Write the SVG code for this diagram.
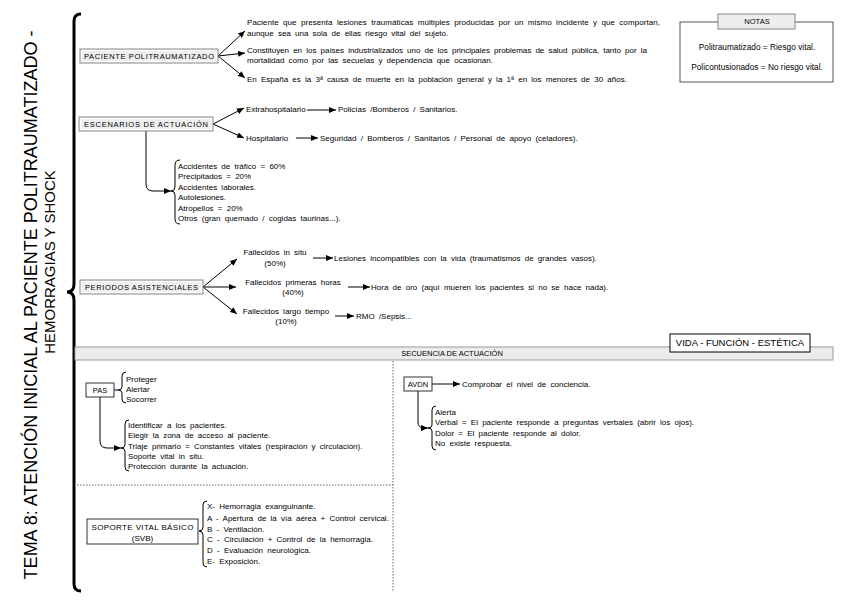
<svg xmlns="http://www.w3.org/2000/svg" width="848" height="600" viewBox="0 0 848 600">
<style>
text{font-family:"Liberation Sans",Arial,sans-serif;fill:#000}
.t{font-size:8px;word-spacing:2px}
.s{font-size:7.5px}
.n{font-size:8.3px}
.c{text-anchor:middle}
.gbox{fill:#efefef;stroke:#8a8a8a;stroke-width:1}
.gin{fill:none;stroke:#fff;stroke-width:1}
.wbox{fill:#fff;stroke:#333;stroke-width:1}
.ln{fill:none;stroke:#000;stroke-width:1}
.ar{fill:none;stroke:#000;stroke-width:1;marker-end:url(#ah)}
.br{fill:none;stroke:#000;stroke-width:1}
.dot{fill:none;stroke:#666;stroke-width:1;stroke-dasharray:1.5 1.5}
</style>
<defs>
<marker id="ah" markerUnits="userSpaceOnUse" markerWidth="7" markerHeight="6" refX="7" refY="3" orient="auto">
<path d="M0,0 L7,3 L0,6 z" fill="#000"/>
</marker>
</defs>
<rect width="848" height="600" fill="#fff"/>

<g id="title">
<text transform="translate(37,305) rotate(-90)" class="c" style="font-size:18px">TEMA 8: ATENCIÓN INICIAL AL PACIENTE POLITRAUMATIZADO -</text>
<text transform="translate(55,262) rotate(-90)" class="c" style="font-size:15px">HEMORRAGIAS Y SHOCK</text>
<path d="M81,14 Q74,14 74,21 L74,284 Q74,292 67,292 Q74,292 74,300 L74,584 Q74,591 81,591" fill="none" stroke="#000" stroke-width="3"/>
</g>

<g id="connectors">
<path class="ar" d="M218,56 L245,31"/>
<path class="ar" d="M218,56 L245,53"/>
<path class="ar" d="M218,56 L245,78"/>
<path class="ar" d="M213,124 L244,108"/>
<path class="ar" d="M213,124 L244,138"/>
<path class="ar" d="M307,110 L336,110"/>
<path class="ar" d="M296,138 L318,138"/>
<path class="ar" d="M146,131 L146,184 Q146,191 153,191 L171,191"/>
<path class="ar" d="M203,287 L237,259"/>
<path class="ar" d="M203,287 L236,287"/>
<path class="ar" d="M203,287 L237,314"/>
<path class="ar" d="M313,258 L333,258"/>
<path class="ar" d="M348,287 L370,287"/>
<path class="ar" d="M335,316 L354,316"/>
<path class="ln" d="M114,390 L118,390"/>
<path class="ar" d="M100,397 L100,441 Q100,448 107,448 L121,448"/>
<path class="ar" d="M432,384 L460,384"/>
<path class="ar" d="M418,391 L418,422 Q418,428 424,428 L428,428"/>
<path class="dot" d="M393,361 L393,592"/>
<path class="dot" d="M77,485 L393,485"/>
</g>

<g id="paciente">
<rect class="gbox" x="80" y="49" width="138" height="14"/>
<rect class="gin" x="81.5" y="50.5" width="135" height="11"/>
<text class="s c" x="149" y="59" textLength="130" lengthAdjust="spacing">PACIENTE POLITRAUMATIZADO</text>
<text class="t" x="247" y="25" textLength="413" lengthAdjust="spacing">Paciente que presenta lesiones traumáticas múltiples producidas por un mismo incidente y que comportan,</text>
<text class="t" x="247" y="36">aunque sea una sola de ellas riesgo vital del sujeto.</text>
<text class="t" x="247" y="53" textLength="400" lengthAdjust="spacing">Constituyen en los países industrializados uno de los principales problemas de salud pública, tanto por la</text>
<text class="t" x="247" y="63">mortalidad como por las secuelas y dependencia que ocasionan.</text>
<text class="t" x="247" y="82">En España es la 3ª causa de muerte en la población general y la 1ª en los menores de 30 años.</text>
</g>

<g id="notas">
<rect x="680" y="22" width="153" height="60" fill="#fff" stroke="#555" stroke-width="1"/>
<rect x="718" y="14" width="77" height="15" fill="#eee" stroke="#888" stroke-width="1"/>
<text class="s c" x="757" y="24">NOTAS</text>
<text class="n c" x="757" y="50">Politraumatizado = Riesgo vital.</text>
<text class="n c" x="757" y="70">Policontusionados = No riesgo vital.</text>
</g>

<g id="escenarios">
<rect class="gbox" x="79" y="117" width="134" height="14"/>
<rect class="gin" x="80.5" y="118.5" width="131" height="11"/>
<text class="s c" x="146" y="127" textLength="124" lengthAdjust="spacing">ESCENARIOS DE ACTUACIÓN</text>
<text class="t" x="246" y="112">Extrahospitalario</text>
<text class="t" x="338" y="112">Policías /Bomberos / Sanitarios.</text>
<text class="t" x="246" y="141">Hospitalario</text>
<text class="t" x="320" y="141">Seguridad / Bomberos / Sanitarios / Personal de apoyo (celadores).</text>
</g>

<g id="causas">
<path class="br" d="M180,160 Q175,160 175,165 L175,187 Q175,191 171,191 Q175,191 175,195 L175,219 Q175,224 180,224"/>
<text class="t" x="178" y="169">Accidentes de tráfico = 60%</text>
<text class="t" x="178" y="179">Precipitados = 20%</text>
<text class="t" x="178" y="190">Accidentes laborales.</text>
<text class="t" x="178" y="200">Autolesiones.</text>
<text class="t" x="178" y="211">Atropellos = 20%</text>
<text class="t" x="178" y="221">Otros (gran quemado / cogidas taurinas...).</text>
</g>

<g id="periodos">
<rect class="gbox" x="80" y="280" width="123" height="14"/>
<rect class="gin" x="81.5" y="281.5" width="120" height="11"/>
<text class="s c" x="141.5" y="290" textLength="113" lengthAdjust="spacing">PERIODOS ASISTENCIALES</text>
<text class="t c" x="275" y="255">Fallecidos in situ</text>
<text class="t c" x="275" y="266">(50%)</text>
<text class="t c" x="293" y="285">Fallecidos primeras horas</text>
<text class="t c" x="293" y="295">(40%)</text>
<text class="t c" x="286" y="314">Fallecidos largo tiempo</text>
<text class="t c" x="286" y="324">(10%)</text>
<text class="t" x="334" y="261">Lesiones incompatibles con la vida (traumatismos de grandes vasos).</text>
<text class="t" x="371" y="290">Hora de oro (aquí mueren los pacientes si no se hace nada).</text>
<text class="t" x="356" y="319">RMO /Sepsis...</text>
</g>

<g id="secuencia">
<rect x="75" y="347" width="758" height="13" fill="#ececec" stroke="#999" stroke-width="1"/>
<text class="c" x="452" y="356" style="font-size:7.5px">SECUENCIA DE ACTUACIÓN</text>
</g>

<g id="vida">
<rect x="670" y="334" width="140" height="18" fill="#fff" stroke="#000" stroke-width="1"/>
<text class="c" x="740" y="346" style="font-size:9.5px">VIDA - FUNCIÓN - ESTÉTICA</text>
</g>

<g id="pas">
<rect class="wbox" x="86" y="383" width="28" height="14"/>
<text class="s c" x="100" y="393">PAS</text>
<path class="br" d="M126,372 Q122,372 122,376 L122,387 Q122,390 118,390 Q122,390 122,393 L122,399 Q122,403 126,403"/>
<text class="t" x="126" y="382">Proteger</text>
<text class="t" x="126" y="392">Alertar</text>
<text class="t" x="126" y="402">Socorrer</text>
</g>

<g id="pas-pasos">
<path class="br" d="M129,420 Q125,420 125,424 L125,445 Q125,448 121,448 Q125,448 125,451 L125,467 Q125,471 129,471"/>
<text class="t" x="128" y="428">Identificar a los pacientes.</text>
<text class="t" x="128" y="438">Elegir la zona de acceso al paciente.</text>
<text class="t" x="128" y="449">Triaje primario = Constantes vitales (respiración y circulación).</text>
<text class="t" x="128" y="459">Soporte vital in situ.</text>
<text class="t" x="128" y="469">Protección durante la actuación.</text>
</g>

<g id="avdn">
<rect class="wbox" x="404" y="377" width="28" height="14"/>
<text class="s c" x="418" y="387">AVDN</text>
<text class="t" x="462" y="387">Comprobar el nivel de conciencia.</text>
<path class="br" d="M436,406 Q432,406 432,410 L432,425 Q432,428 428,428 Q432,428 432,431 L432,446 Q432,450 436,450"/>
<text class="t" x="435" y="415">Alerta</text>
<text class="t" x="435" y="425">Verbal = El paciente responde a preguntas verbales (abrir los ojos).</text>
<text class="t" x="435" y="436">Dolor = El paciente responde al dolor.</text>
<text class="t" x="435" y="446">No existe respuesta.</text>
</g>

<g id="svb">
<rect class="wbox" x="87" y="519" width="111" height="25"/>
<text class="s c" x="142.5" y="530" textLength="102" lengthAdjust="spacing" style="font-size:8px">SOPORTE VITAL BÁSICO</text>
<text class="s c" x="142.5" y="541" style="font-size:8px">(SVB)</text>
<path class="br" d="M207,501 Q203,501 203,505 L203,527 Q203,531 199,531 Q203,531 203,535 L203,563 Q203,567 207,567"/>
<text class="t" x="207" y="509">X- Hemorragia exanguinante.</text>
<text class="t" x="207" y="521">A - Apertura de la vía aérea + Control cervical.</text>
<text class="t" x="207" y="532">B - Ventilación.</text>
<text class="t" x="207" y="542">C - Circulación + Control de la hemorragia.</text>
<text class="t" x="207" y="553">D - Evaluación neurológica.</text>
<text class="t" x="207" y="564">E- Exposición.</text>
</g>
</svg>
